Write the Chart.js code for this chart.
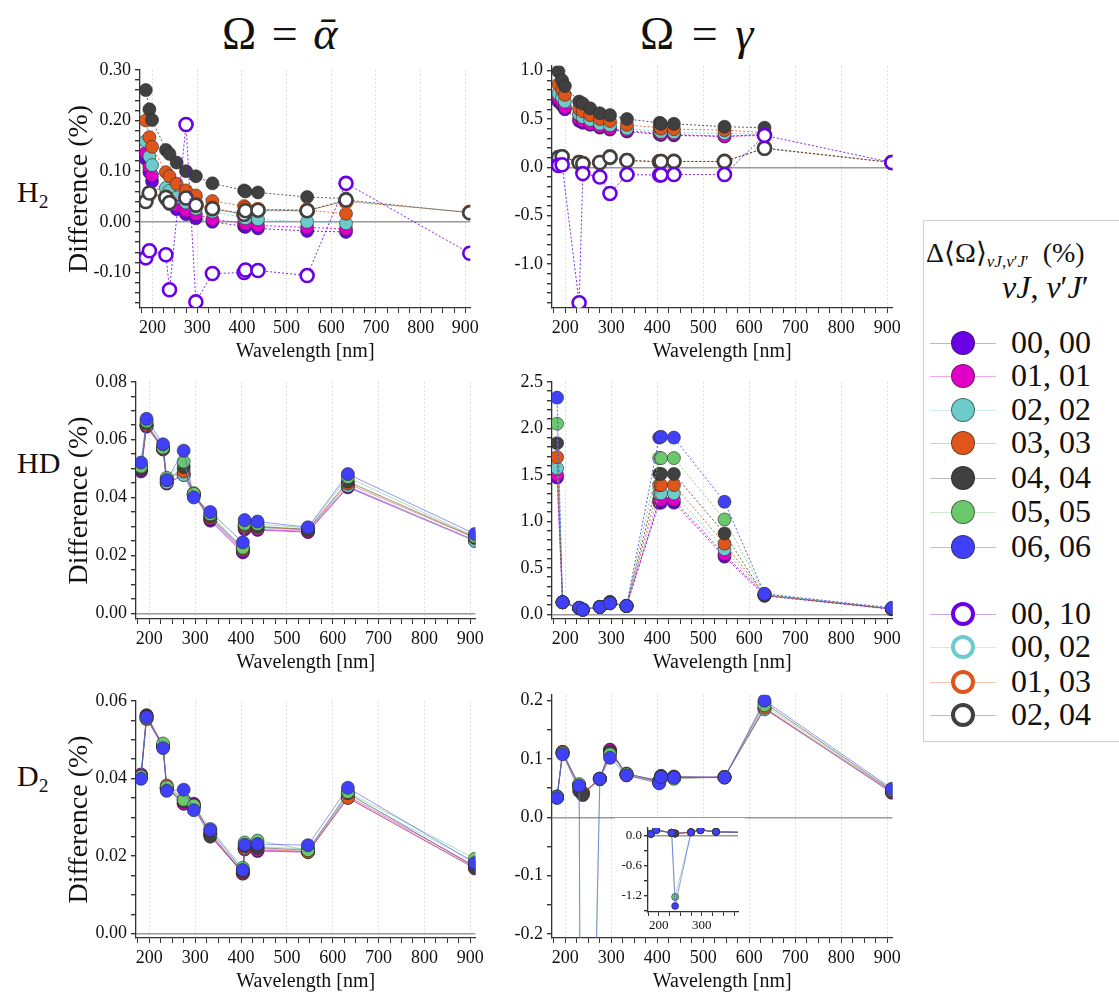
<!DOCTYPE html>
<html>
<head>
<meta charset="utf-8">
<script src="https://cdn.jsdelivr.net/npm/chart.js@4.4.1/dist/chart.umd.min.js"></script>
<style>
  html, body { margin: 0; padding: 0; background: #fff; overflow: hidden; }
  body { width: 1119px; height: 992px; position: relative; font-family: 'Liberation Serif', 'Times New Roman', serif; color: #111; }
  canvas { position: absolute; }
  .lbl { position: absolute; white-space: nowrap; }
  .lbl sub { font-size: 0.65em; vertical-align: -0.3em; line-height: 0; }
  #legend { position: absolute; left: 923px; top: 220px; width: 240px; height: 520px; border: 1.5px solid #cfcfcf; }
  .lgLine { position: absolute; height: 1px; width: 66px; left: 930px; }
  .lgDot { position: absolute; width: 24px; height: 24px; border-radius: 50%; box-sizing: border-box; left: 951px; }
  .lgTxt { position: absolute; left: 1011px; font-size: 32px; line-height: 36px; white-space: nowrap; }
</style>
</head>
<body>

<div class="lbl" style="left:222px; top:8px; font-size:46px; line-height:52px; word-spacing:4px;">Ω = <i>ᾱ</i></div>
<div class="lbl" style="left:640px; top:8px; font-size:46px; line-height:52px; word-spacing:6px;">Ω = <i>γ</i></div>

<div class="lbl" style="left:17px; top:174px; font-size:30px; line-height:36px;">H<sub>2</sub></div>
<div class="lbl" style="left:17px; top:445px; font-size:30px; line-height:36px;">HD</div>
<div class="lbl" style="left:17px; top:758px; font-size:30px; line-height:36px;">D<sub>2</sub></div>

<canvas id="h2Alpha" width="423" height="313" style="left:60px; top:55px;"></canvas>
<canvas id="h2Gamma" width="400" height="317" style="left:505px; top:51px;"></canvas>
<canvas id="hdAlpha" width="428" height="312" style="left:60px; top:367px;"></canvas>
<canvas id="hdGamma" width="400" height="312" style="left:505px; top:367px;"></canvas>
<canvas id="d2Alpha" width="428" height="312" style="left:60px; top:686px;"></canvas>
<canvas id="d2Gamma" width="400" height="318" style="left:505px; top:680px;"></canvas>
<canvas id="d2Inset" width="130" height="118" style="left:615px; top:818px; background:#fff;"></canvas>

<div id="legend"></div>
<div class="lbl" style="left:926px; top:236px; font-size:28px; line-height:34px;">Δ⟨Ω⟩<sub style="font-size:17px;"><i>vJ</i>,<i>v</i>′<i>J</i>′</sub>&nbsp; (%)</div>
<div class="lbl" style="left:1002px; top:268px; font-size:32px; line-height:38px;"><i>vJ</i>, <i>v</i>′<i>J</i>′</div>
<div id="legendRows"></div>

<script>
const SERIF = "'Liberation Serif', 'Times New Roman', serif";

// ================= wavelengths (nm) =================
const wlH2 = [185, 193, 199, 230, 238, 254, 275, 297, 334, 405, 408, 436, 546, 633];
const wlH2open = [185, 193, 230, 238, 275, 297, 334, 405, 408, 436, 546, 633, 910];
const wl = [182, 194, 230, 238, 275, 297, 333, 404, 408, 436, 546, 633, 910];

// ================= series names / colours =================
const filledLabels = ["00, 00", "01, 01", "02, 02", "03, 03", "04, 04", "05, 05", "06, 06"];
const filledColors = ["#6a00e6", "#e000c8", "#6ecbcb", "#e0561a", "#404040", "#6cc86c", "#4040f8"];
const openLabels = ["00, 10", "00, 02", "01, 03", "02, 04"];
const openColors = ["#6a00e6", "#6ecbcb", "#e0561a", "#404040"];

// ================= H2, alpha =================
const h2a00 = [0.124, 0.098, 0.080, 0.044, 0.035, 0.025, 0.015, 0.007, 0.000, -0.009, -0.010, -0.013, -0.018, -0.020];
const h2a01 = [0.136, 0.108, 0.092, 0.048, 0.038, 0.033, 0.022, 0.015, 0.005, -0.003, -0.004, -0.007, -0.011, -0.014];
const h2a02 = [0.159, 0.129, 0.112, 0.067, 0.061, 0.048, 0.038, 0.026, 0.020, 0.008, 0.007, 0.005, 0.000, -0.003];
const h2a03 = [0.200, 0.167, 0.148, 0.098, 0.090, 0.075, 0.062, 0.052, 0.041, 0.031, 0.028, 0.025, 0.023, 0.016];
const h2a04 = [0.260, 0.222, 0.201, 0.142, 0.134, 0.117, 0.100, 0.090, 0.076, 0.062, 0.060, 0.058, 0.049, 0.046];
const h2aO0010 = [-0.071, -0.057, -0.065, -0.134, 0.192, -0.158, -0.102, -0.100, -0.095, -0.096, -0.106, 0.076, -0.062];
const h2aO0002 = [0.040, 0.055, 0.047, 0.038, 0.045, 0.032, 0.025, 0.015, 0.021, 0.022, 0.021, 0.042, 0.018];
const h2aO0103 = [0.041, 0.056, 0.049, 0.039, 0.048, 0.034, 0.027, 0.016, 0.023, 0.024, 0.023, 0.040, 0.019];
const h2aO0204 = [0.040, 0.057, 0.048, 0.038, 0.047, 0.033, 0.026, 0.015, 0.022, 0.023, 0.022, 0.043, 0.018];

// ================= H2, gamma =================
const h2g00 = [0.68, 0.64, 0.60, 0.48, 0.46, 0.44, 0.41, 0.39, 0.37, 0.34, 0.335, 0.33, 0.32, 0.34];
const h2g01 = [0.71, 0.67, 0.62, 0.50, 0.48, 0.45, 0.42, 0.40, 0.38, 0.35, 0.345, 0.34, 0.32, 0.33];
const h2g02 = [0.76, 0.72, 0.68, 0.55, 0.52, 0.49, 0.45, 0.435, 0.40, 0.37, 0.365, 0.36, 0.35, 0.345];
const h2g03 = [0.86, 0.80, 0.75, 0.605, 0.58, 0.54, 0.50, 0.48, 0.44, 0.41, 0.40, 0.395, 0.385, 0.36];
const h2g04 = [0.99, 0.90, 0.84, 0.68, 0.66, 0.61, 0.56, 0.54, 0.50, 0.46, 0.45, 0.45, 0.42, 0.41];
const h2gO0010 = [0.020, 0.027, -1.40, -0.065, -0.10, -0.27, -0.075, -0.080, -0.078, -0.075, -0.075, 0.33, 0.05];
const h2gO0002 = [0.10, 0.11, 0.05, 0.04, 0.05, 0.10, 0.07, 0.058, 0.06, 0.06, 0.06, 0.195, 0.05];
const h2gO0103 = [0.10, 0.11, 0.05, 0.04, 0.05, 0.11, 0.07, 0.060, 0.06, 0.06, 0.06, 0.200, 0.05];
const h2gO0204 = [0.10, 0.11, 0.05, 0.037, 0.05, 0.105, 0.07, 0.058, 0.06, 0.061, 0.061, 0.197, 0.05];

// ================= HD, alpha =================
const hda00 = [0.0490, 0.0645, 0.0566, 0.0448, 0.0478, 0.0410, 0.0320, 0.0210, 0.0290, 0.0288, 0.0280, 0.0435, 0.0250];
const hda01 = [0.0495, 0.0648, 0.0568, 0.0450, 0.0480, 0.0410, 0.0325, 0.0215, 0.0295, 0.0290, 0.0283, 0.0438, 0.0252];
const hda02 = [0.0505, 0.0650, 0.0570, 0.0452, 0.0478, 0.0410, 0.0330, 0.0220, 0.0300, 0.0295, 0.0288, 0.0440, 0.0250];
const hda03 = [0.0500, 0.0650, 0.0568, 0.0465, 0.0490, 0.0415, 0.0330, 0.0220, 0.0300, 0.0298, 0.0288, 0.0448, 0.0260];
const hda04 = [0.0500, 0.0655, 0.0570, 0.0460, 0.0505, 0.0410, 0.0335, 0.0225, 0.0305, 0.0300, 0.0290, 0.0455, 0.0262];
const hda05 = [0.0507, 0.0663, 0.0572, 0.0468, 0.0524, 0.0413, 0.0342, 0.0226, 0.0308, 0.0308, 0.0295, 0.0470, 0.0265];
const hda06 = [0.0521, 0.0672, 0.0584, 0.0460, 0.0562, 0.0400, 0.0350, 0.0245, 0.0322, 0.0317, 0.0297, 0.0481, 0.0274];

// ================= HD, gamma =================
const hdg00 = [1.47, 0.13, 0.065, 0.05, 0.08, 0.12, 0.09, 1.20, 1.20, 1.20, 0.62, 0.20, 0.055];
const hdg01 = [1.50, 0.13, 0.065, 0.05, 0.08, 0.12, 0.09, 1.23, 1.23, 1.23, 0.645, 0.21, 0.055];
const hdg02 = [1.57, 0.13, 0.07, 0.05, 0.08, 0.12, 0.09, 1.30, 1.30, 1.30, 0.70, 0.21, 0.06];
const hdg03 = [1.69, 0.13, 0.07, 0.05, 0.08, 0.125, 0.09, 1.39, 1.39, 1.39, 0.76, 0.21, 0.06];
const hdg04 = [1.84, 0.13, 0.07, 0.055, 0.08, 0.135, 0.09, 1.51, 1.51, 1.51, 0.87, 0.20, 0.06];
const hdg05 = [2.05, 0.13, 0.07, 0.05, 0.08, 0.12, 0.09, 1.68, 1.68, 1.68, 1.02, 0.22, 0.065];
const hdg06 = [2.33, 0.13, 0.07, 0.05, 0.08, 0.12, 0.09, 1.90, 1.91, 1.90, 1.21, 0.22, 0.07];

// ================= D2, alpha =================
const d2a00 = [0.0410, 0.0563, 0.0484, 0.0375, 0.0335, 0.0335, 0.0255, 0.0155, 0.0218, 0.0213, 0.0210, 0.0350, 0.0168];
const d2a01 = [0.0410, 0.0562, 0.0484, 0.0375, 0.0335, 0.0333, 0.0256, 0.0155, 0.0217, 0.0215, 0.0212, 0.0354, 0.0175];
const d2a02 = [0.0405, 0.0555, 0.0484, 0.0375, 0.0345, 0.0328, 0.0260, 0.0162, 0.0220, 0.0225, 0.0218, 0.0357, 0.0185];
const d2a03 = [0.0405, 0.0553, 0.0484, 0.0382, 0.0345, 0.0330, 0.0260, 0.0158, 0.0220, 0.0220, 0.0210, 0.0350, 0.0170];
const d2a04 = [0.0405, 0.0560, 0.0484, 0.0375, 0.0340, 0.0325, 0.0250, 0.0160, 0.0225, 0.0222, 0.0215, 0.0362, 0.0172];
const d2a05 = [0.0405, 0.0555, 0.0490, 0.0378, 0.0345, 0.0330, 0.0270, 0.0170, 0.0235, 0.0240, 0.0215, 0.0365, 0.0193];
const d2a06 = [0.0399, 0.0558, 0.0478, 0.0368, 0.0371, 0.0318, 0.0267, 0.0164, 0.0229, 0.0231, 0.0228, 0.0376, 0.0182];

// ================= D2, gamma =================
const d2g00 = [0.034, 0.112, 0.055, 0.042, 0.066, 0.116, 0.074, 0.063, 0.070, 0.069, 0.069, 0.187, 0.042];
const d2g01 = [0.035, 0.112, 0.054, 0.042, 0.066, 0.115, 0.073, 0.062, 0.070, 0.068, 0.069, 0.186, 0.043];
const d2g02 = [0.035, 0.110, 0.055, 0.042, 0.066, 0.110, 0.074, 0.060, 0.069, 0.067, 0.069, 0.185, 0.044];
const d2g03 = [0.034, 0.112, 0.052, 0.041, 0.066, 0.112, 0.072, 0.060, 0.068, 0.067, 0.069, 0.188, 0.045];
const d2g04 = [0.036, 0.110, 0.045, 0.038, 0.066, 0.112, 0.075, 0.062, 0.071, 0.070, 0.068, 0.196, 0.046];
const d2g05 = [0.035, 0.110, 0.057, -1.22, 0.065, 0.108, 0.074, 0.060, 0.068, 0.066, 0.069, 0.192, 0.047];
const d2g06 = [0.033, 0.108, 0.054, -1.40, 0.066, 0.102, 0.072, 0.058, 0.069, 0.068, 0.068, 0.200, 0.049];

// ================= helpers =================
function rgba(hex, a) {
    const n = parseInt(hex.slice(1), 16);
    return `rgba(${(n >> 16) & 255},${(n >> 8) & 255},${n & 255},${a})`;
}

function isMult(v, step) {
    const q = v / step;
    return Math.abs(q - Math.round(q)) < 1e-6;
}

function makeSet(xs, ys, color, open, st) {
    return {
        data: xs.map((x, i) => ({ x: x, y: ys[i] })),
        showLine: true,
        borderColor: rgba(color, st.lineAlpha),
        borderWidth: st.lineWidth,
        borderDash: st.dotted ? [2, 2] : [],
        pointRadius: st.r,
        pointHoverRadius: st.r,
        pointBackgroundColor: open ? "#ffffff" : color,
        pointBorderColor: open ? color : "rgba(40,40,40,0.75)",
        pointBorderWidth: open ? st.ring : 0.8
    };
}

// filled series for one panel, blue drawn on top (dataset 0 is on top)
function filledSets(xs, rows, st) {
    const sets = rows.map((ys, i) => makeSet(xs, ys, filledColors[i], false, st));
    return sets.reverse();
}

function makePanel(id, datasets, cfg) {
    new Chart(document.getElementById(id), {
        type: "scatter",
        data: { datasets: datasets },
        options: {
            responsive: false,
            animation: false,
            devicePixelRatio: 1,
            layout: { padding: { top: cfg.padTop, right: cfg.padRight, left: 0, bottom: 0 } },
            plugins: { legend: { display: false }, tooltip: { enabled: false } },
            scales: {
                x: {
                    type: "linear",
                    min: cfg.xmin,
                    max: cfg.xmax,
                    afterFit: s => { s.height = cfg.xH; },
                    ticks: {
                        stepSize: 25, includeBounds: false, autoSkip: false, maxRotation: 0,
                        padding: cfg.tickPad, color: "#111",
                        font: { family: SERIF, size: cfg.tickSize },
                        callback: v => isMult(v, 100) ? String(v) : ""
                    },
                    grid: {
                        color: c => (cfg.xGrid && c.tick && isMult(c.tick.value, 100)) ? "#dcdcdc" : "rgba(0,0,0,0)",
                        tickColor: "#333", tickLength: cfg.tickLen, lineWidth: 1
                    },
                    border: { color: "#333", width: 1.3, dash: [2, 2] },
                    title: {
                        display: cfg.xTitle, text: "Wavelength [nm]", color: "#111",
                        font: { family: SERIF, size: 20 }, padding: { top: 0, bottom: 4 }
                    }
                },
                y: {
                    type: "linear",
                    min: cfg.ymin,
                    max: cfg.ymax,
                    afterFit: s => { s.width = cfg.yW; },
                    ticks: {
                        stepSize: cfg.yMinor, includeBounds: false, autoSkip: false,
                        padding: cfg.tickPad, color: "#111",
                        font: { family: SERIF, size: cfg.tickSize },
                        callback: v => isMult(v, cfg.yMajor) ? (Math.abs(v) < 1e-9 ? 0 : v).toFixed(cfg.dec) : ""
                    },
                    grid: {
                        color: c => (c.tick && Math.abs(c.tick.value) < 1e-9) ? "#9a9a9a" : "rgba(0,0,0,0)",
                        lineWidth: 1.4, tickColor: "#333", tickLength: cfg.tickLen
                    },
                    border: { color: "#333", width: 1.3 },
                    title: {
                        display: cfg.yTitle, text: "Difference (%)", color: "#111",
                        font: { family: SERIF, size: 28 }, padding: { top: 3, bottom: 3 }
                    }
                }
            }
        }
    });
}

const dotted = { dotted: true, lineWidth: 1, lineAlpha: 0.85, r: 6.5, ring: 2.6 };
const solid = { dotted: false, lineWidth: 1, lineAlpha: 0.55, r: 6.5, ring: 2.6 };
const small = { dotted: false, lineWidth: 1, lineAlpha: 0.55, r: 3.5, ring: 1.5 };

const leftCol = { xmin: 171, xmax: 911, padTop: 12, padRight: 12, xH: 60, yW: 76, tickPad: 4, tickSize: 18, tickLen: 5, xGrid: true, xTitle: true, yTitle: true };
const rightCol = Object.assign({}, leftCol, { yW: 47, yTitle: false });

// ================= H2 =================
function loadH2() {
    const openA = [
        makeSet(wlH2open, h2aO0010, openColors[0], true, dotted),
        makeSet(wlH2open, h2aO0204, openColors[3], true, dotted),
        makeSet(wlH2open, h2aO0103, openColors[2], true, dotted),
        makeSet(wlH2open, h2aO0002, openColors[1], true, dotted)
    ];
    makePanel("h2Alpha", openA.concat(filledSets(wlH2, [h2a00, h2a01, h2a02, h2a03, h2a04], dotted)),
        Object.assign({}, leftCol, { xmin: 172, yW: 80, ymin: -0.17, ymax: 0.30, yMinor: 0.02, yMajor: 0.1, dec: 2 }));

    const openG = [
        makeSet(wlH2open, h2gO0010, openColors[0], true, dotted),
        makeSet(wlH2open, h2gO0204, openColors[3], true, dotted),
        makeSet(wlH2open, h2gO0103, openColors[2], true, dotted),
        makeSet(wlH2open, h2gO0002, openColors[1], true, dotted)
    ];
    makePanel("h2Gamma", openG.concat(filledSets(wlH2, [h2g00, h2g01, h2g02, h2g03, h2g04], dotted)),
        Object.assign({}, rightCol, { ymin: -1.455, ymax: 1.05, yMinor: 0.1, yMajor: 0.5, dec: 1 }));
}

// ================= HD =================
function loadHD() {
    makePanel("hdAlpha", filledSets(wl, [hda00, hda01, hda02, hda03, hda04, hda05, hda06], solid),
        Object.assign({}, leftCol, { ymin: -0.002, ymax: 0.08, yMinor: 0.005, yMajor: 0.02, dec: 2 }));
    makePanel("hdGamma", filledSets(wl, [hdg00, hdg01, hdg02, hdg03, hdg04, hdg05, hdg06], dotted),
        Object.assign({}, rightCol, { ymin: -0.05, ymax: 2.5, yMinor: 0.1, yMajor: 0.5, dec: 1 }));
}

// ================= D2 (+ inset) =================
function loadD2() {
    const gamma = [d2g00, d2g01, d2g02, d2g03, d2g04, d2g05, d2g06];
    makePanel("d2Alpha", filledSets(wl, [d2a00, d2a01, d2a02, d2a03, d2a04, d2a05, d2a06], solid),
        Object.assign({}, leftCol, { ymin: -0.0011, ymax: 0.06, yMinor: 0.005, yMajor: 0.02, dec: 2 }));
    makePanel("d2Gamma", filledSets(wl, gamma, solid),
        Object.assign({}, rightCol, { ymin: -0.207, ymax: 0.21, yMinor: 0.05, yMajor: 0.1, dec: 1 }));
    makePanel("d2Inset", filledSets(wl, gamma, small),
        { xmin: 175, xmax: 384, ymin: -1.52, ymax: 0.15, yMinor: 0.3, yMajor: 0.6, dec: 1,
          padTop: 10, padRight: 7, xH: 24, yW: 33, tickPad: 2, tickSize: 13, tickLen: 4,
          xGrid: false, xTitle: false, yTitle: false });
}

// ================= legend =================
function buildLegend() {
    const rowsY = [343, 376, 410, 443, 478, 512, 547];
    const openY = [614, 647, 682, 715];
    let html = "";
    filledLabels.forEach((lab, i) => {
        const y = rowsY[i];
        html += `<div class="lgLine" style="top:${y}px; background:${rgba(filledColors[i], 0.35)}"></div>`;
        html += `<div class="lgDot" style="top:${y - 12}px; background:${filledColors[i]}; border:1px solid rgba(40,40,40,0.6)"></div>`;
        html += `<div class="lgTxt" style="top:${y - 19}px">${lab}</div>`;
    });
    openLabels.forEach((lab, i) => {
        const y = openY[i];
        html += `<div class="lgLine" style="top:${y}px; background:${rgba(openColors[i], 0.35)}"></div>`;
        html += `<div class="lgDot" style="top:${y - 12}px; background:#fff; border:4px solid ${openColors[i]}"></div>`;
        html += `<div class="lgTxt" style="top:${y - 19}px">${lab}</div>`;
    });
    document.getElementById("legendRows").innerHTML = html;
}

// ================= INIT =================
buildLegend();
loadH2();
loadHD();
loadD2();
</script>
</body>
</html>
